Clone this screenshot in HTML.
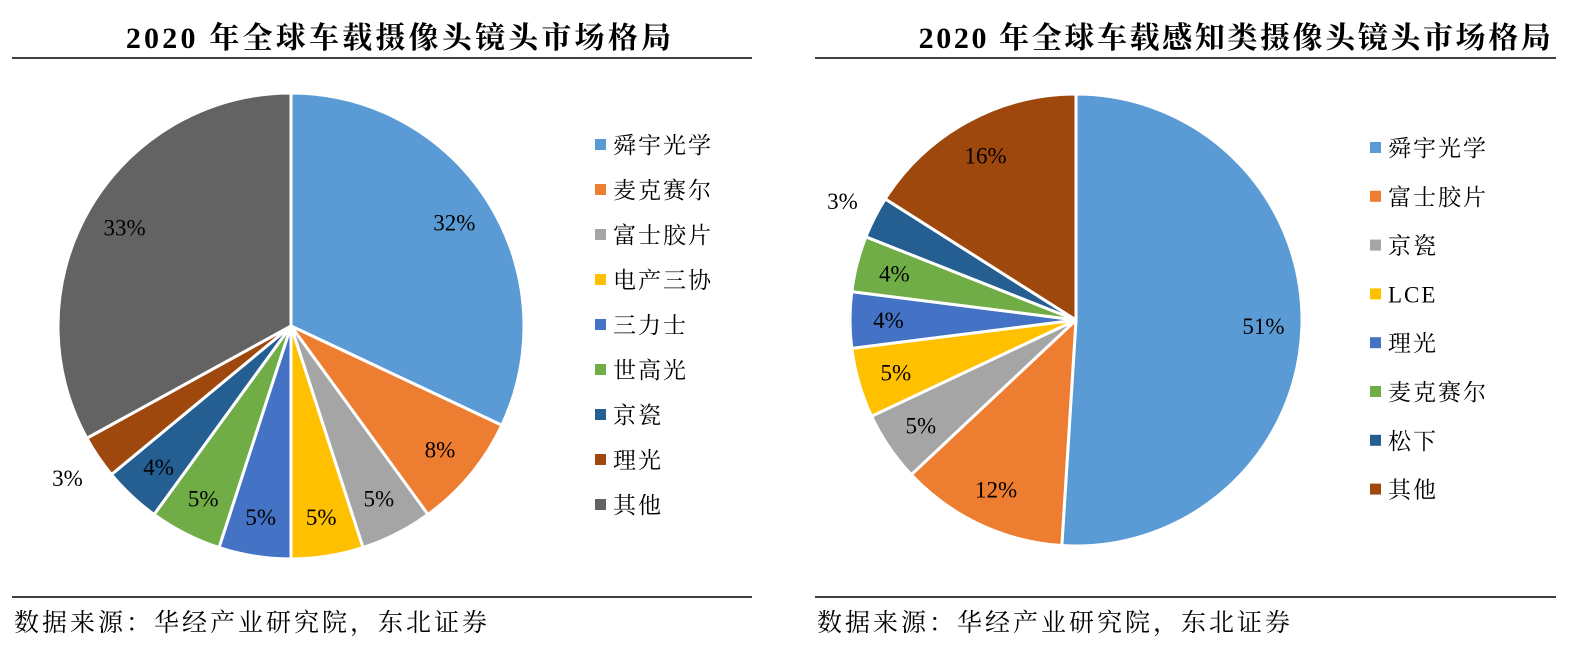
<!DOCTYPE html>
<html><head><meta charset="utf-8">
<style>
body{margin:0;background:#fff;width:1570px;height:651px;overflow:hidden;font-family:"Liberation Serif","Noto Serif CJK SC",serif;}
svg text{font-family:"Liberation Serif","Noto Serif CJK SC",serif;}
</style></head><body>
<svg id="svg" width="1570" height="651">
<text x="400" y="48" text-anchor="middle" font-size="30" font-weight="bold" letter-spacing="3.2">2020 年全球车载摄像头镜头市场格局</text>
<line x1="12" y1="58" x2="752" y2="58" stroke="#000" stroke-width="1.5"/>
<text x="1236" y="48" text-anchor="middle" font-size="30" font-weight="bold" letter-spacing="2.6">2020 年全球车载感知类摄像头镜头市场格局</text>
<line x1="815" y1="58" x2="1556" y2="58" stroke="#000" stroke-width="1.5"/>
<line x1="12" y1="597" x2="752" y2="597" stroke="#000" stroke-width="1.5"/>
<line x1="815" y1="597" x2="1556" y2="597" stroke="#000" stroke-width="1.5"/>
<text x="14" y="631" font-size="25" letter-spacing="3">数据来源：华经产业研究院，东北证券</text>
<text x="817" y="631" font-size="25" letter-spacing="3">数据来源：华经产业研究院，东北证券</text>
<g id="left"></g>
<g id="right"></g>
</svg>
<script>
const leftCategories=["舜宇光学","麦克赛尔","富士胶片","电产三协","三力士","世高光","京瓷","理光","其他"];
const leftValues=[32,8,5,5,5,5,4,3,33];
const leftColors=["#5B9BD5","#ED7D31","#A5A5A5","#FFC000","#4472C4","#70AD47","#255E91","#9E480E","#636363"];
const rightCategories=["舜宇光学","富士胶片","京瓷","LCE","理光","麦克赛尔","松下","其他"];
const rightValues=[51,12,5,5,4,4,3,16];
const rightColors=["#5B9BD5","#ED7D31","#A5A5A5","#FFC000","#4472C4","#70AD47","#255E91","#9E480E"];
const NS="http://www.w3.org/2000/svg";
function drawPie(g,cats,vals,cols,cx,cy,r,lx,ly0,lstep){
  const total=vals.reduce((a,b)=>a+b,0);
  let a0=0;
  vals.forEach((v,i)=>{
    const a1=a0+v/total*Math.PI*2;
    const p=(a)=>[cx+r*Math.sin(a),cy-r*Math.cos(a)];
    const [x0,y0]=p(a0),[x1,y1]=p(a1);
    const path=document.createElementNS(NS,"path");
    path.setAttribute("d",`M${cx},${cy}L${x0},${y0}A${r},${r} 0 ${a1-a0>Math.PI?1:0} 1 ${x1},${y1}Z`);
    path.setAttribute("fill",cols[i]);path.setAttribute("stroke","#fff");path.setAttribute("stroke-width","3");
    
    
    g.appendChild(path);
    const mid=(a0+a1)/2;
    const f=v<=3?1.16:0.83;
    const t=document.createElementNS(NS,"text");
    t.setAttribute("x",cx+f*r*Math.sin(mid));t.setAttribute("y",cy-f*r*Math.cos(mid)+8);
    t.setAttribute("text-anchor","middle");t.setAttribute("font-size","23");
    t.textContent=v+"%";
    
    
    g.appendChild(t);
    const sq=document.createElementNS(NS,"rect");
    sq.setAttribute("x",lx);sq.setAttribute("y",ly0+i*lstep-6);sq.setAttribute("width",11);sq.setAttribute("height",11);sq.setAttribute("fill",cols[i]);
    
    
    g.appendChild(sq);
    const lt=document.createElementNS(NS,"text");
    lt.setAttribute("x",lx+18);lt.setAttribute("y",ly0+i*lstep+8);lt.setAttribute("font-size","23");
    lt.setAttribute("letter-spacing","2");
    lt.textContent=cats[i];
    
    
    g.appendChild(lt);
    a0=a1;
  });
}
drawPie(document.getElementById("left"),leftCategories,leftValues,leftColors,291,326,233,595,145,45);
drawPie(document.getElementById("right"),rightCategories,rightValues,rightColors,1076,320,226,1370,148,48.8);
</script>
</body></html>
